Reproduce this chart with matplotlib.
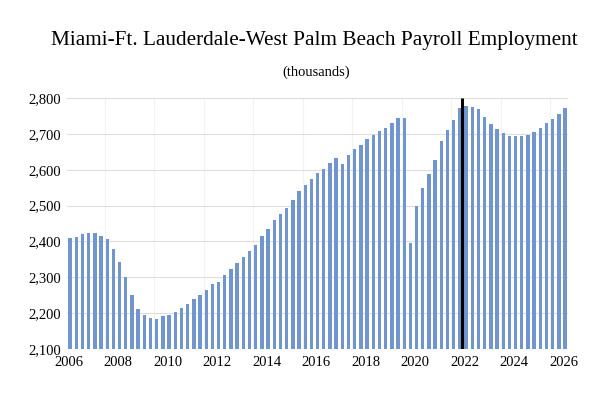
import numpy as np
import matplotlib.pyplot as plt

# quarterly payroll employment, 2006Q1 .. 2026Q1 (thousands)
employment = [
    2409, 2413, 2421, 2423, 2423, 2415, 2407, 2378,
    2344, 2300, 2250, 2212, 2194, 2186, 2184, 2191,
    2196, 2203, 2214, 2226, 2238, 2251, 2265, 2280,
    2288, 2307, 2322, 2340, 2356, 2372, 2391, 2414,
    2435, 2460, 2477, 2493, 2516, 2540, 2557, 2573,
    2590, 2602, 2618, 2632, 2617, 2640, 2659, 2669,
    2686, 2698, 2709, 2716, 2730, 2745, 2743, 2395,
    2498, 2549, 2587, 2626, 2680, 2712, 2739, 2772,
    2778, 2776, 2769, 2747, 2728, 2713, 2703, 2695,
    2694, 2695, 2698, 2706, 2717, 2730, 2742, 2756,
    2771,
]
year_labels = ['2006', '2008', '2010', '2012', '2014', '2016',
               '2018', '2020', '2022', '2024', '2026']
y_ticks = [2100, 2200, 2300, 2400, 2500, 2600, 2700, 2800]
forecast_start = 63.4  # marker between 2021Q4 and 2022Q1

serif = ['Liberation Serif', 'DejaVu Serif']

fig = plt.figure(figsize=(6.09, 3.97), dpi=100)
ax = fig.add_axes([0.110, 0.121, 0.823, 0.632])

x = np.arange(len(employment))
ax.bar(x, np.array(employment) - 2100, bottom=2100, width=0.55,
       color='#7095cf', zorder=2)

ax.vlines(forecast_start, 2100, 2800, color='black', linewidth=2.2, zorder=3)

for k in range(10):
    ax.axvline(8 * k + 5.6, color='#f2f2f2', linewidth=0.8, zorder=0)

ax.set_ylim(2100, 2800)
ax.set_xlim(-0.5, 80.5)
ax.set_yticks(y_ticks)
ax.set_yticklabels([f'{v:,}' for v in y_ticks], family=serif, fontsize=10.5)
ax.set_xticks([8 * k - 0.25 for k in range(len(year_labels))])
ax.set_xticklabels(year_labels, family=serif, fontsize=10.5)
ax.tick_params(axis='x', length=0, pad=5)
ax.tick_params(axis='y', length=0, pad=4)
ax.grid(axis='y', color='#dedede', linewidth=0.8, zorder=0)
for s in ax.spines.values():
    s.set_visible(False)

fig.text(0.517, 0.898, 'Miami-Ft. Lauderdale-West Palm Beach Payroll Employment',
         ha='center', va='center', family=serif, fontsize=15.3)
fig.text(0.519, 0.818, '(thousands)', ha='center', va='center',
         family=serif, fontsize=10.5)

fig.savefig('out.png', dpi=100)
